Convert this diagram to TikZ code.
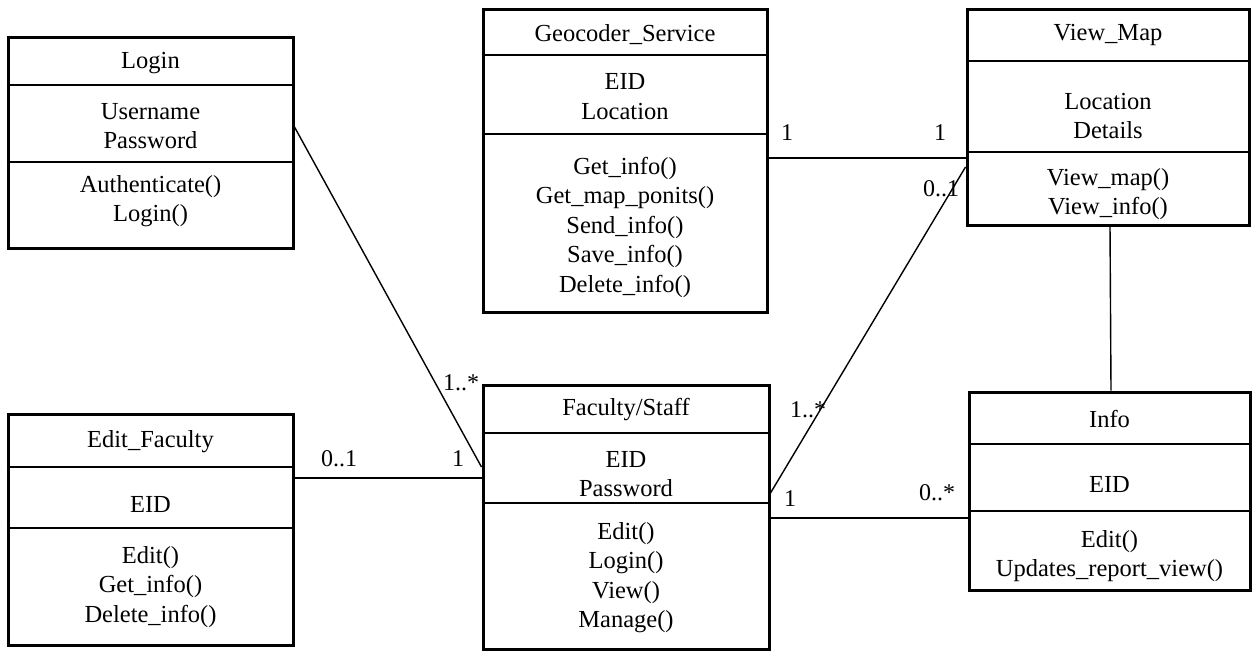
\documentclass[tikz,border=0pt]{standalone}
\usepackage{fontspec}
\setmainfont{Liberation Serif}
\begin{document}
\begin{tikzpicture}[x=1pt,y=-1pt,
  classbox/.style={draw, line width=3pt, inner sep=0pt},
  divider/.style={line width=1.3pt},
  conn/.style={line width=1.4pt},
  txt/.style={align=center, font=\fontsize{24.5}{29.5}\selectfont, inner sep=0pt},
  mult/.style={font=\fontsize{24}{28}\selectfont, inner sep=0pt}]
\useasboundingbox (0,0) rectangle (1252,651);

% ---------- Login
\node[classbox, minimum width=285pt, minimum height=211pt] (login) at (150.5,142.5) {};
\draw[divider] (login.west |- 0,85) -- (login.east |- 0,85);
\draw[divider] (login.west |- 0,162) -- (login.east |- 0,162);
\node[txt] (login-t) at (150.5,63) {Login};
\node[txt] (login-a) at (150.5,126) {Username\\Password};
\node[txt] (login-m) at (150.5,201) {Authenticate()\\Login()};

% ---------- Geocoder_Service
\node[classbox, minimum width=284pt, minimum height=303pt] (geo) at (625,160.5) {};
\draw[divider] (geo.west |- 0,55) -- (geo.east |- 0,55);
\draw[divider] (geo.west |- 0,134) -- (geo.east |- 0,134);
\node[txt] (geo-t) at (625,35) {Geocoder\_Service};
\node[txt] (geo-a) at (625,96.5) {EID\\Location};
\node[txt] (geo-m) at (625,227) {Get\_info()\\Get\_map\_ponits()\\Send\_info()\\Save\_info()\\Delete\_info()};

% ---------- View_Map
\node[classbox, minimum width=282pt, minimum height=216pt] (vm) at (1108,117) {};
\draw[divider] (vm.west |- 0,61) -- (vm.east |- 0,61);
\draw[divider] (vm.west |- 0,152) -- (vm.east |- 0,152);
\node[txt] (vm-t) at (1108,35) {View\_Map};
\node[txt] (vm-a) at (1108,116) {Location\\Details};
\node[txt] (vm-m) at (1108,194) {View\_map()\\View\_info()};

% ---------- Edit_Faculty
\node[classbox, minimum width=285pt, minimum height=231pt] (ef) at (150.5,529.5) {};
\draw[divider] (ef.west |- 0,467) -- (ef.east |- 0,467);
\draw[divider] (ef.west |- 0,528) -- (ef.east |- 0,528);
\node[txt] (ef-t) at (150.5,442) {Edit\_Faculty};
\node[txt] (ef-a) at (150.5,504) {EID};
\node[txt] (ef-m) at (150.5,587) {Edit()\\Get\_info()\\Delete\_info()};

% ---------- Faculty/Staff
\node[classbox, minimum width=286pt, minimum height=264pt] (fs) at (626,517) {};
\draw[divider] (fs.west |- 0,433) -- (fs.east |- 0,433);
\draw[divider] (fs.west |- 0,503) -- (fs.east |- 0,503);
\node[txt] (fs-t) at (626,410) {Faculty/Staff};
\node[txt] (fs-a) at (626,474) {EID\\Password};
\node[txt] (fs-m) at (626,577.5) {Edit()\\Login()\\View()\\Manage()};

% ---------- Info
\node[classbox, minimum width=281pt, minimum height=198pt] (info) at (1109.5,491) {};
\draw[divider] (info.west |- 0,444) -- (info.east |- 0,444);
\draw[divider] (info.west |- 0,511) -- (info.east |- 0,511);
\node[txt] (info-t) at (1109.5,419) {Info};
\node[txt] (info-a) at (1109.5,484) {EID};
\node[txt] (info-m) at (1109.5,556) {Edit()\\Updates\_report\_view()};

% ---------- connectors
\coordinate (c-login) at (login.east |- 0,127);
\coordinate (c-fs-l1) at (fs.west |- 0,467);
\coordinate (c-ef) at (ef.east |- 0,478);
\coordinate (c-fs-l2) at (fs.west |- 0,478);
\coordinate (c-geo) at (geo.east |- 0,158);
\coordinate (c-vm-l1) at (vm.west |- 0,158);
\coordinate (c-fs-r1) at (fs.east |- 0,493);
\coordinate (c-vm-l2) at (vm.west |- 0,167);
\coordinate (c-fs-r2) at (fs.east |- 0,518);
\coordinate (c-info-l) at (info.west |- 0,518);
\coordinate (c-vm-b) at (vm.south -| 1110,0);
\coordinate (c-info-t) at (info.north -| 1111,0);

\draw[conn] (c-login) -- (c-fs-l1);
\draw[conn] (c-ef) -- (c-fs-l2);
\draw[conn] (c-geo) -- (c-vm-l1);
\draw[conn] (c-fs-r1) -- (c-vm-l2);
\draw[conn] (c-fs-r2) -- (c-info-l);
\draw[conn] (c-vm-b) -- (c-info-t);

% ---------- multiplicities
\node[mult] (m1) at (461,383) {1..*};
\node[mult] (m2) at (458,459) {1};
\node[mult] (m3) at (339,459) {0..1};
\node[mult] (m4) at (787,133) {1};
\node[mult] (m5) at (940,133) {1};
\node[mult] (m6) at (941,189) {0..1};
\node[mult] (m7) at (808,410) {1..*};
\node[mult] (m8) at (790,499) {1};
\node[mult] (m9) at (937,493) {0..*};
\end{tikzpicture}
\end{document}
